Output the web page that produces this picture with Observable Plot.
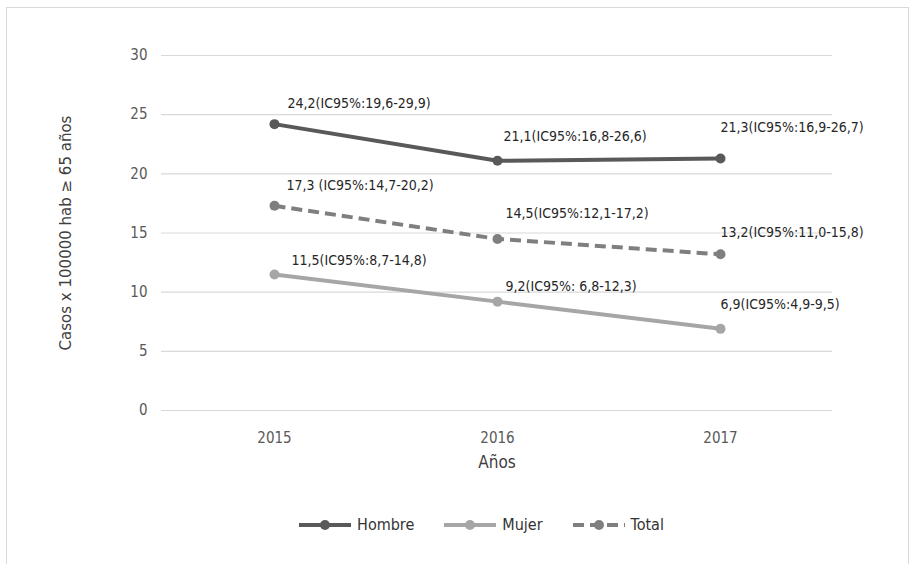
<!DOCTYPE html>
<html>
<head>
<meta charset="utf-8">
<script src="https://cdn.jsdelivr.net/npm/d3@7"></script>
<script src="https://cdn.jsdelivr.net/npm/@observablehq/plot@0.6"></script>
<style>
  html, body { margin: 0; padding: 0; background: #fff; }
  #wrap { position: relative; width: 917px; height: 564px; overflow: hidden; background:#fff; }
  #frame { position: absolute; left: 6px; top: 7px; width: 903px; height: 560px; border: 1px solid #d9d9d9; box-sizing: border-box; }
  #chart { position: absolute; left: 0; top: 0; }
  #legend { position: absolute; left: 23px; top: 515px; width: 917px; display: flex; justify-content: center; font-family: "Liberation Sans Narrow", "DejaVu Sans Condensed", sans-serif; font-size: 16px; color: #333; }
  .item { display: flex; align-items: center; margin: 0 15px; }
  .item svg { margin-right: 6px; }
</style>
</head>
<body>
<div id="wrap">
  <div id="frame"></div>
  <div id="chart"></div>
  <div id="legend"></div>
</div>
<script>
const years = [2015, 2016, 2017];
const series = ["Hombre", "Mujer", "Total"];
const hombre = [24.2, 21.1, 21.3];
const mujer = [11.5, 9.2, 6.9];
const total = [17.3, 14.5, 13.2];
const hombreLabels = ["24,2(IC95%:19,6-29,9)", "21,1(IC95%:16,8-26,6)", "21,3(IC95%:16,9-26,7)"];
const mujerLabels = ["11,5(IC95%:8,7-14,8)", "9,2(IC95%: 6,8-12,3)", "6,9(IC95%:4,9-9,5)"];
const totalLabels = ["17,3 (IC95%:14,7-20,2)", "14,5(IC95%:12,1-17,2)", "13,2(IC95%:11,0-15,8)"];
const yTicks = [0, 5, 10, 15, 20, 25, 30];

const colors = {Hombre: "#595959", Mujer: "#a6a6a6", Total: "#7f7f7f"};
const dashes = {Hombre: null, Mujer: null, Total: "11,6"};
// label placement offsets (layout only), per series, per year index
const labelDx = {Hombre: [13, 6, 0], Mujer: [17, 8, 0], Total: [12, 8, 0]};
const labelDy = {Hombre: [-21, -24, -31], Mujer: [-14, -15, -24], Total: [-20, -25, -22]};

const values = {Hombre: hombre, Mujer: mujer, Total: total};
const labels = {Hombre: hombreLabels, Mujer: mujerLabels, Total: totalLabels};
const rows = series.flatMap(s => years.map((y, i) => ({serie: s, year: y, value: values[s][i], label: labels[s][i], i})));

const narrow = '"Liberation Sans Narrow", "DejaVu Sans Condensed", sans-serif';

const marks = [
  Plot.ruleY(yTicks, {stroke: "#d9d9d9", strokeWidth: 1.2}),
  Plot.axisY(yTicks, {tickSize: 0, tickPadding: 14, fontSize: 15, fontFamily: narrow, fill: "#595959", label: null}),
  Plot.axisX(years, {tickSize: 0, tickPadding: 22, fontSize: 15, fontFamily: narrow, fill: "#595959", label: null, tickFormat: d => String(d)}),
  Plot.text(["Casos x 100000 hab ≥ 65 años"], {frameAnchor: "left", textAnchor: "middle", dx: -95, rotate: -90, fontSize: 15, fontFamily: '"DejaVu Sans", sans-serif', fill: "#404040"}),
  Plot.text(["Años"], {frameAnchor: "bottom", dy: 57, fontSize: 17, fontFamily: narrow, fill: "#404040"})
];
for (const s of series) {
  const d = rows.filter(r => r.serie === s);
  marks.push(Plot.line(d, {x: "year", y: "value", stroke: colors[s], strokeWidth: 4, strokeDasharray: dashes[s], strokeLinecap: "butt"}));
  marks.push(Plot.dot(d, {x: "year", y: "value", r: 5, fill: colors[s]}));
  for (const r of d) {
    marks.push(Plot.text([r], {x: "year", y: "value", text: "label", textAnchor: "start", dx: labelDx[s][r.i], dy: labelDy[s][r.i], fontSize: 14, fontFamily: narrow, fill: "#262626"}));
  }
}

const chart = Plot.plot({
  width: 917,
  height: 470,
  marginLeft: 161,
  marginRight: 85,
  marginTop: 55,
  marginBottom: 60,
  x: {type: "point", domain: years, padding: 0.5},
  y: {domain: [0, 30]},
  style: {background: "transparent", overflow: "visible"},
  marks
});
document.getElementById("chart").appendChild(chart);

const legend = document.getElementById("legend");
for (const s of series) {
  const item = document.createElement("div");
  item.className = "item";
  const ns = "http://www.w3.org/2000/svg";
  const svg = document.createElementNS(ns, "svg");
  svg.setAttribute("width", 52); svg.setAttribute("height", 14);
  const ln = document.createElementNS(ns, "line");
  ln.setAttribute("x1", 0); ln.setAttribute("x2", 52); ln.setAttribute("y1", 7); ln.setAttribute("y2", 7);
  ln.setAttribute("stroke", colors[s]); ln.setAttribute("stroke-width", 4);
  if (dashes[s]) ln.setAttribute("stroke-dasharray", "11,6");
  const c = document.createElementNS(ns, "circle");
  c.setAttribute("cx", 26); c.setAttribute("cy", 7); c.setAttribute("r", 5); c.setAttribute("fill", colors[s]);
  svg.appendChild(ln); svg.appendChild(c);
  const t = document.createElement("span");
  t.textContent = s;
  item.appendChild(svg); item.appendChild(t);
  legend.appendChild(item);
}
</script>
</body>
</html>
